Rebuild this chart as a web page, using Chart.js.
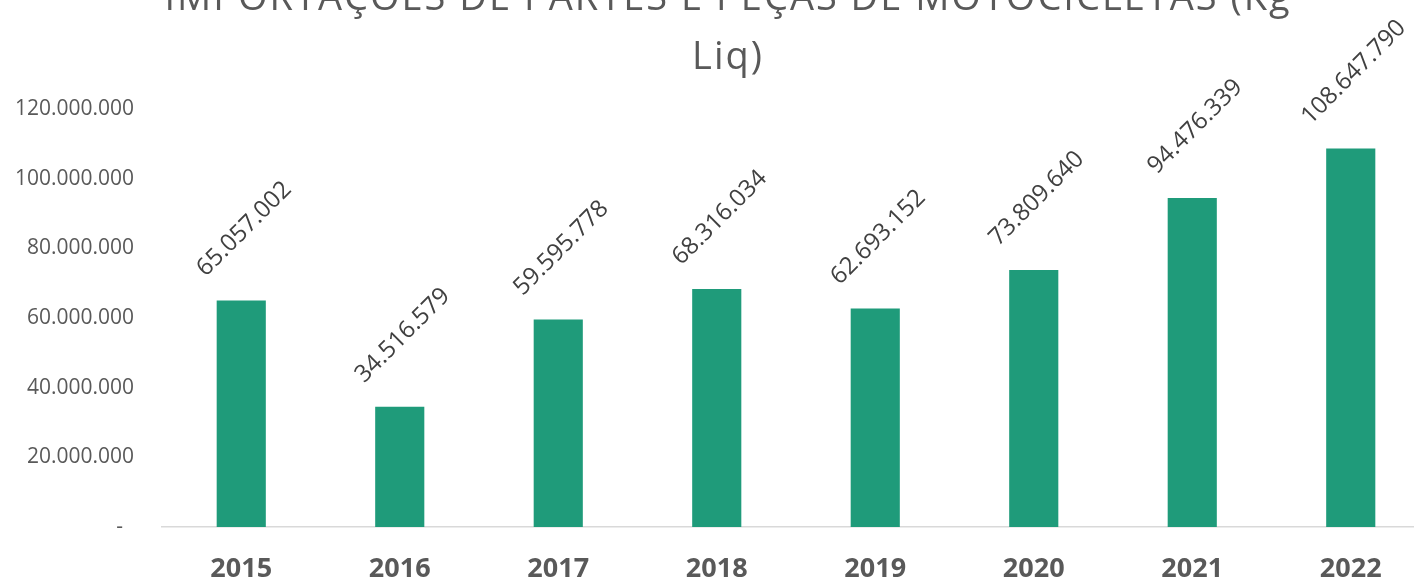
<!DOCTYPE html>
<html>
<head>
<meta charset="utf-8">
<script src="https://cdn.jsdelivr.net/npm/chart.js@4.4.0/dist/chart.umd.min.js"></script>
<style>
  html, body { margin: 0; padding: 0; background: #ffffff; overflow: hidden; width: 1414px; height: 583px; }
  #wrap { position: absolute; left: 0; top: -40px; width: 1454px; height: 640px; }
</style>
</head>
<body>
<div id="wrap"><canvas id="c" width="1454" height="640"></canvas></div>
<script>
const categories = ['2015', '2016', '2017', '2018', '2019', '2020', '2021', '2022'];
const values = [65057002, 34516579, 59595778, 68316034, 62693152, 73809640, 94476339, 108647790];
const yTicks = [0, 20000000, 40000000, 60000000, 80000000, 100000000, 120000000];
const titleLines = ['IMPORTAÇÕES DE PARTES E PEÇAS DE MOTOCICLETAS (Kg', 'Liq)'];

function fmt(v) {
  return String(Math.round(v)).replace(/\B(?=(\d{3})+(?!\d))/g, '.');
}

const labelPlugin = {
  id: 'rotLabels',
  afterDatasetsDraw(chart) {
    const ctx = chart.ctx;
    const meta = chart.getDatasetMeta(0);
    ctx.save();
    ctx.font = '24px "Open Sans"';
    ctx.fillStyle = '#404040';
    ctx.textAlign = 'center';
    ctx.textBaseline = 'middle';
    meta.data.forEach((bar, i) => {
      const t = fmt(values[i]);
      const w = ctx.measureText(t).width;
      const h = 17;
      const bboxH = (w + h) * Math.SQRT1_2;
      const cx = bar.x + 3;
      const cy = bar.y - 22 - bboxH / 2;
      ctx.save();
      ctx.translate(cx, cy);
      ctx.rotate(-Math.PI / 4);
      ctx.fillText(t, 0, 0);
      ctx.restore();
    });
    ctx.restore();
  }
};

const titlePlugin = {
  id: 'spacedTitle',
  afterDraw(chart) {
    const ctx = chart.ctx;
    ctx.save();
    ctx.font = '38px "Open Sans"';
    ctx.letterSpacing = '2px';
    ctx.fillStyle = '#595959';
    ctx.textAlign = 'center';
    ctx.textBaseline = 'alphabetic';
    const cx = 727;
    ctx.fillText(titleLines[0], cx + 1, 50);
    ctx.fillText(titleLines[1], cx + 1, 109);
    ctx.restore();
  }
};

new Chart(document.getElementById('c'), {
  type: 'bar',
  data: {
    labels: categories,
    datasets: [{
      data: values,
      backgroundColor: '#1F9B7A',
      borderWidth: 0,
      barPercentage: 0.31,
      categoryPercentage: 1.0
    }]
  },
  options: {
    responsive: false,
    animation: false,
    devicePixelRatio: 1,
    layout: { padding: { left: 0, right: 24, top: 149, bottom: 0 } },
    plugins: {
      legend: { display: false },
      tooltip: { enabled: false },
      title: { display: false }
    },
    scales: {
      x: {
        grid: { display: false, drawTicks: false },
        border: { display: true, color: '#D9D9D9', width: 1.5 },
        ticks: {
          color: '#595959',
          font: { family: 'Open Sans', size: 27, weight: 'bold' },
          padding: 26,
          maxRotation: 0
        },
        afterFit(scale) { scale.height = 73; }
      },
      y: {
        min: 0,
        max: 120000000,
        afterBuildTicks(scale) { scale.ticks = yTicks.map(v => ({ value: v })); },
        grid: { display: false, drawTicks: false },
        border: { display: false },
        ticks: {
          color: '#595959',
          font: { family: 'Open Sans', size: 21 },
          padding: 28,
          callback: (v) => v === 0 ? '-  ' : fmt(v)
        },
        afterFit(scale) { scale.width = 162; }
      }
    }
  },
  plugins: [labelPlugin, titlePlugin]
});
</script>
</body>
</html>
